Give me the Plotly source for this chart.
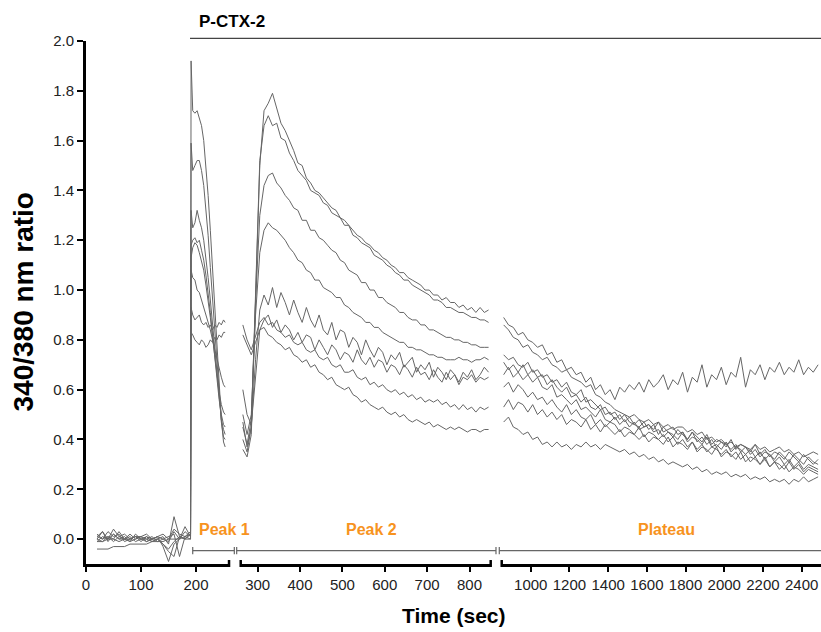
import plotly.graph_objects as go

# sampling times (s) for the three pieces of the broken time axis
t_seg1 = [20, 30, 40, 50, 60, 70, 80, 90, 100, 110, 120, 130, 140, 150, 160, 170, 180, 190,
          191, 194, 198, 202, 206, 210, 214, 218, 222, 226, 230, 234, 238, 242, 246, 250, 253]
t_seg2 = list(range(265, 850, 10))
t_seg3 = list(range(860, 2500, 25))

# 340/380 ratio for each cell, one list per axis piece
cell_a1 = [0.00, 0.03, -0.01, 0.02, 0.00, 0.01, -0.01, 0.02, 0.00, 0.01, -0.01, 0.00, 0.01, -0.02, 0.09, 0.01, 0.00, 0.02,
           1.92, 1.72, 1.71, 1.72, 1.69, 1.66, 1.60, 1.50, 1.38, 1.24, 1.08, 0.92, 0.76, 0.61, 0.48, 0.39, 0.37]
cell_b1 = [0.01, 0.00, 0.03, 0.01, 0.02, -0.01, 0.00, 0.01, 0.01, -0.01, 0.00, 0.01, -0.03, -0.09, -0.02, 0.00, 0.03, 0.01,
           1.59, 1.48, 1.50, 1.52, 1.52, 1.48, 1.42, 1.33, 1.22, 1.09, 0.96, 0.82, 0.69, 0.57, 0.47, 0.41, 0.40]
cell_c1 = [-0.01, 0.01, 0.00, 0.02, 0.00, 0.00, 0.01, -0.01, 0.00, 0.00, -0.01, 0.00, -0.02, -0.05, -0.07, 0.01, 0.00, 0.02,
           1.32, 1.25, 1.27, 1.32, 1.28, 1.25, 1.20, 1.13, 1.05, 0.96, 0.86, 0.76, 0.66, 0.56, 0.48, 0.44, 0.42]
cell_d1 = [0.00, -0.01, 0.01, 0.00, 0.03, 0.00, -0.01, 0.00, 0.01, 0.00, 0.01, -0.01, 0.00, 0.01, 0.02, -0.07, 0.01, 0.03,
           1.18, 1.20, 1.21, 1.19, 1.20, 1.16, 1.12, 1.06, 0.99, 0.91, 0.82, 0.73, 0.64, 0.56, 0.50, 0.46, 0.45]
cell_e1 = [0.02, 0.00, 0.01, -0.01, 0.01, 0.02, 0.00, 0.01, -0.01, 0.01, 0.00, 0.01, 0.00, -0.01, 0.03, 0.00, 0.05, 0.01,
           1.13, 1.17, 1.19, 1.18, 1.15, 1.12, 1.08, 1.02, 0.96, 0.89, 0.81, 0.73, 0.66, 0.59, 0.54, 0.51, 0.50]
cell_f1 = [-0.01, -0.01, 0.00, 0.00, -0.01, 0.00, 0.00, 0.01, 0.00, -0.01, 0.00, 0.00, -0.02, -0.04, -0.01, 0.01, 0.00, 0.00,
           1.08, 1.05, 1.04, 1.00, 0.99, 0.96, 0.94, 0.90, 0.87, 0.84, 0.80, 0.76, 0.72, 0.68, 0.65, 0.62, 0.61]
cell_g1 = [-0.04, -0.04, -0.04, -0.03, -0.03, -0.03, -0.02, -0.02, -0.02, -0.02, -0.01, -0.01, -0.01, 0.00, 0.00, 0.00, 0.01, 0.00,
           0.93, 0.90, 0.88, 0.89, 0.90, 0.87, 0.86, 0.87, 0.85, 0.86, 0.84, 0.86, 0.85, 0.87, 0.86, 0.88, 0.87]
cell_h1 = [0.01, 0.03, 0.00, 0.04, 0.01, 0.00, 0.02, 0.00, 0.01, 0.02, 0.00, 0.01, 0.02, 0.00, 0.04, 0.02, 0.01, 0.02,
           0.83, 0.82, 0.80, 0.79, 0.78, 0.80, 0.79, 0.77, 0.78, 0.80, 0.79, 0.81, 0.80, 0.82, 0.81, 0.83, 0.83]

cell_a2 = [0.36, 0.33, 0.42, 0.95, 1.50, 1.72, 1.75, 1.79, 1.73, 1.67, 1.64, 1.60, 1.56, 1.51, 1.50, 1.45, 1.43, 1.40, 1.39, 1.37,
           1.35, 1.33, 1.32, 1.29, 1.28, 1.26, 1.24, 1.22, 1.21, 1.19, 1.18, 1.16, 1.15, 1.13, 1.12, 1.10, 1.09, 1.07, 1.07, 1.05,
           1.04, 1.03, 1.02, 1.00, 1.00, 0.98, 0.98, 0.96, 0.97, 0.95, 0.95, 0.93, 0.94, 0.92, 0.93, 0.91, 0.93, 0.91, 0.92]
cell_b2 = [0.40, 0.35, 0.45, 1.00, 1.52, 1.66, 1.70, 1.66, 1.67, 1.61, 1.60, 1.55, 1.52, 1.48, 1.46, 1.44, 1.40, 1.39, 1.38, 1.35,
           1.34, 1.31, 1.30, 1.29, 1.26, 1.26, 1.22, 1.21, 1.19, 1.18, 1.17, 1.14, 1.13, 1.12, 1.10, 1.09, 1.07, 1.06, 1.04, 1.04,
           1.02, 1.01, 1.00, 0.99, 0.98, 0.96, 0.96, 0.95, 0.93, 0.93, 0.92, 0.91, 0.91, 0.90, 0.89, 0.89, 0.88, 0.88, 0.87]
cell_c2 = [0.45, 0.38, 0.48, 0.95, 1.30, 1.42, 1.46, 1.47, 1.43, 1.41, 1.38, 1.36, 1.33, 1.32, 1.28, 1.28, 1.24, 1.24, 1.21, 1.20,
           1.18, 1.16, 1.15, 1.12, 1.11, 1.08, 1.07, 1.06, 1.03, 1.03, 1.00, 1.00, 0.97, 0.97, 0.95, 0.94, 0.93, 0.91, 0.91, 0.89,
           0.88, 0.88, 0.86, 0.86, 0.84, 0.84, 0.83, 0.82, 0.81, 0.81, 0.80, 0.80, 0.79, 0.79, 0.78, 0.78, 0.77, 0.77, 0.77]
cell_d2 = [0.50, 0.42, 0.50, 0.90, 1.15, 1.24, 1.27, 1.25, 1.24, 1.22, 1.20, 1.17, 1.15, 1.12, 1.11, 1.08, 1.07, 1.04, 1.04, 1.01,
           1.00, 0.99, 0.97, 0.97, 0.94, 0.93, 0.91, 0.90, 0.89, 0.87, 0.87, 0.85, 0.85, 0.83, 0.82, 0.81, 0.80, 0.79, 0.79, 0.77,
           0.77, 0.76, 0.76, 0.75, 0.74, 0.74, 0.73, 0.73, 0.72, 0.72, 0.72, 0.73, 0.72, 0.72, 0.71, 0.72, 0.72, 0.73, 0.72]
cell_e2 = [0.47, 0.37, 0.45, 0.72, 0.92, 0.98, 0.94, 1.01, 0.93, 0.99, 0.95, 0.90, 0.96, 0.91, 0.87, 0.93, 0.88, 0.85, 0.90, 0.84,
           0.82, 0.87, 0.80, 0.84, 0.83, 0.77, 0.81, 0.79, 0.74, 0.80, 0.76, 0.73, 0.77, 0.75, 0.70, 0.74, 0.72, 0.75, 0.69, 0.71,
           0.73, 0.67, 0.70, 0.68, 0.71, 0.65, 0.69, 0.67, 0.64, 0.68, 0.66, 0.63, 0.67, 0.65, 0.68, 0.64, 0.66, 0.69, 0.67]
cell_f2 = [0.60, 0.50, 0.46, 0.66, 0.84, 0.88, 0.90, 0.85, 0.88, 0.83, 0.86, 0.84, 0.80, 0.83, 0.79, 0.82, 0.81, 0.76, 0.80, 0.77,
           0.74, 0.78, 0.76, 0.72, 0.75, 0.74, 0.71, 0.76, 0.72, 0.70, 0.73, 0.69, 0.72, 0.71, 0.67, 0.70, 0.69, 0.66, 0.70, 0.68,
           0.65, 0.69, 0.66, 0.67, 0.64, 0.68, 0.65, 0.63, 0.67, 0.64, 0.66, 0.62, 0.65, 0.64, 0.66, 0.63, 0.65, 0.64, 0.65]
cell_g2 = [0.86, 0.80, 0.76, 0.82, 0.87, 0.89, 0.86, 0.87, 0.84, 0.83, 0.81, 0.82, 0.79, 0.78, 0.79, 0.76, 0.75, 0.76, 0.73, 0.72,
           0.73, 0.70, 0.69, 0.70, 0.67, 0.67, 0.68, 0.65, 0.64, 0.65, 0.62, 0.63, 0.61, 0.62, 0.60, 0.59, 0.60, 0.58, 0.59, 0.57,
           0.58, 0.56, 0.57, 0.55, 0.56, 0.55, 0.56, 0.54, 0.55, 0.53, 0.54, 0.52, 0.54, 0.52, 0.53, 0.51, 0.53, 0.52, 0.53]
cell_h2 = [0.82, 0.78, 0.74, 0.79, 0.84, 0.85, 0.82, 0.81, 0.79, 0.78, 0.76, 0.77, 0.74, 0.73, 0.71, 0.72, 0.69, 0.70, 0.67, 0.66,
           0.64, 0.65, 0.62, 0.61, 0.60, 0.61, 0.58, 0.57, 0.55, 0.56, 0.54, 0.53, 0.52, 0.53, 0.51, 0.50, 0.51, 0.49, 0.50, 0.48,
           0.47, 0.48, 0.47, 0.46, 0.47, 0.45, 0.46, 0.45, 0.44, 0.45, 0.44, 0.45, 0.44, 0.43, 0.44, 0.44, 0.43, 0.44, 0.44]

cell_a3 = [0.89, 0.86, 0.85, 0.82, 0.83, 0.80, 0.79, 0.77, 0.78, 0.74, 0.75, 0.71, 0.72, 0.68, 0.69, 0.66, 0.67, 0.63, 0.65, 0.60,
           0.62, 0.58, 0.60, 0.56, 0.61, 0.59, 0.62, 0.60, 0.63, 0.59, 0.64, 0.61, 0.63, 0.66, 0.60, 0.64, 0.62, 0.67, 0.59, 0.65,
           0.63, 0.70, 0.61, 0.66, 0.64, 0.69, 0.62, 0.67, 0.65, 0.73, 0.61, 0.68, 0.66, 0.70, 0.64, 0.69, 0.67, 0.71, 0.66, 0.69,
           0.67, 0.72, 0.66, 0.69, 0.67, 0.70]
cell_b3 = [0.86, 0.84, 0.81, 0.80, 0.77, 0.78, 0.75, 0.74, 0.72, 0.73, 0.70, 0.69, 0.67, 0.68, 0.65, 0.64, 0.63, 0.61, 0.62, 0.58,
           0.57, 0.55, 0.54, 0.52, 0.51, 0.50, 0.49, 0.50, 0.48, 0.47, 0.48, 0.46, 0.47, 0.45, 0.46, 0.44, 0.45, 0.45, 0.43, 0.44,
           0.42, 0.43, 0.40, 0.41, 0.39, 0.40, 0.38, 0.39, 0.37, 0.38, 0.37, 0.36, 0.38, 0.36, 0.37, 0.35, 0.36, 0.37, 0.35, 0.36,
           0.34, 0.35, 0.33, 0.34, 0.35, 0.34]
cell_c3 = [0.74, 0.72, 0.73, 0.70, 0.69, 0.71, 0.67, 0.68, 0.65, 0.66, 0.63, 0.64, 0.61, 0.63, 0.59, 0.58, 0.60, 0.55, 0.56, 0.54,
           0.52, 0.53, 0.50, 0.51, 0.48, 0.50, 0.47, 0.46, 0.48, 0.45, 0.46, 0.44, 0.47, 0.43, 0.44, 0.45, 0.42, 0.43, 0.40, 0.43,
           0.41, 0.39, 0.42, 0.38, 0.40, 0.39, 0.37, 0.40, 0.36, 0.38, 0.37, 0.35, 0.38, 0.34, 0.36, 0.33, 0.35, 0.34, 0.32, 0.35,
           0.33, 0.31, 0.34, 0.32, 0.30, 0.32]
cell_d3 = [0.71, 0.68, 0.70, 0.67, 0.64, 0.66, 0.63, 0.65, 0.61, 0.60, 0.62, 0.57, 0.58, 0.56, 0.54, 0.56, 0.52, 0.53, 0.51, 0.49,
           0.52, 0.48, 0.47, 0.49, 0.46, 0.48, 0.45, 0.47, 0.44, 0.45, 0.46, 0.43, 0.44, 0.41, 0.43, 0.42, 0.40, 0.43, 0.39, 0.41,
           0.40, 0.38, 0.41, 0.37, 0.38, 0.36, 0.39, 0.35, 0.37, 0.36, 0.34, 0.36, 0.33, 0.35, 0.32, 0.34, 0.31, 0.33, 0.30, 0.32,
           0.29, 0.31, 0.28, 0.30, 0.29, 0.28]
cell_e3 = [0.66, 0.69, 0.65, 0.67, 0.70, 0.66, 0.68, 0.65, 0.66, 0.62, 0.64, 0.61, 0.59, 0.61, 0.57, 0.58, 0.55, 0.57, 0.53, 0.52,
           0.54, 0.50, 0.51, 0.48, 0.50, 0.47, 0.49, 0.46, 0.45, 0.47, 0.44, 0.46, 0.42, 0.45, 0.43, 0.41, 0.44, 0.42, 0.40, 0.43,
           0.39, 0.41, 0.38, 0.40, 0.37, 0.39, 0.38, 0.36, 0.38, 0.35, 0.37, 0.34, 0.36, 0.33, 0.35, 0.34, 0.32, 0.35, 0.33, 0.31,
           0.34, 0.32, 0.30, 0.33, 0.31, 0.30]
cell_f3 = [0.61, 0.63, 0.59, 0.62, 0.60, 0.57, 0.59, 0.56, 0.57, 0.54, 0.56, 0.53, 0.51, 0.54, 0.50, 0.52, 0.49, 0.48, 0.50, 0.46,
           0.48, 0.45, 0.47, 0.46, 0.43, 0.45, 0.44, 0.42, 0.45, 0.41, 0.43, 0.42, 0.40, 0.42, 0.39, 0.41, 0.38, 0.40, 0.37, 0.39,
           0.36, 0.38, 0.35, 0.37, 0.36, 0.34, 0.36, 0.33, 0.35, 0.32, 0.34, 0.31, 0.33, 0.30, 0.32, 0.29, 0.31, 0.28, 0.30, 0.27,
           0.29, 0.28, 0.26, 0.28, 0.27, 0.26]
cell_g3 = [0.53, 0.56, 0.52, 0.55, 0.54, 0.51, 0.54, 0.50, 0.52, 0.49, 0.51, 0.48, 0.50, 0.46, 0.48, 0.47, 0.45, 0.48, 0.44, 0.46,
           0.43, 0.46, 0.44, 0.42, 0.44, 0.41, 0.43, 0.42, 0.40, 0.42, 0.39, 0.41, 0.40, 0.38, 0.41, 0.37, 0.39, 0.38, 0.36, 0.39,
           0.35, 0.37, 0.36, 0.34, 0.37, 0.33, 0.35, 0.34, 0.32, 0.35, 0.31, 0.33, 0.32, 0.30, 0.33, 0.29, 0.31, 0.30, 0.28, 0.31,
           0.28, 0.30, 0.27, 0.29, 0.28, 0.27]
cell_h3 = [0.47, 0.49, 0.45, 0.44, 0.42, 0.43, 0.40, 0.41, 0.38, 0.39, 0.37, 0.39, 0.37, 0.38, 0.36, 0.38, 0.37, 0.39, 0.37, 0.38,
           0.36, 0.38, 0.37, 0.36, 0.35, 0.36, 0.34, 0.35, 0.33, 0.34, 0.32, 0.33, 0.31, 0.32, 0.30, 0.31, 0.30, 0.29, 0.30, 0.28,
           0.29, 0.27, 0.28, 0.26, 0.27, 0.26, 0.27, 0.25, 0.26, 0.25, 0.26, 0.24, 0.25, 0.24, 0.25, 0.23, 0.24, 0.23, 0.24, 0.22,
           0.24, 0.23, 0.25, 0.23, 0.24, 0.25]

cells = [
    (cell_a1, cell_a2, cell_a3), (cell_b1, cell_b2, cell_b3),
    (cell_c1, cell_c2, cell_c3), (cell_d1, cell_d2, cell_d3),
    (cell_e1, cell_e2, cell_e3), (cell_f1, cell_f2, cell_f3),
    (cell_g1, cell_g2, cell_g3), (cell_h1, cell_h2, cell_h3),
]

x_ticks1 = [0, 100, 200]
x_ticks2 = [300, 400, 500, 600, 700, 800]
x_ticks3 = [1000, 1200, 1400, 1600, 1800, 2000, 2200, 2400]

LINE = '#666666'
ORANGE = '#F7931E'
FONT = 'Arial, Liberation Sans, sans-serif'

fig = go.Figure()
for seg1, seg2, seg3 in cells:
    fig.add_trace(go.Scatter(x=t_seg1, y=seg1, mode='lines', xaxis='x', yaxis='y',
                             line=dict(color=LINE, width=1)))
    fig.add_trace(go.Scatter(x=t_seg2, y=seg2, mode='lines', xaxis='x2', yaxis='y',
                             line=dict(color=LINE, width=1)))
    fig.add_trace(go.Scatter(x=t_seg3, y=seg3, mode='lines', xaxis='x3', yaxis='y',
                             line=dict(color=LINE, width=1)))

axis_style = dict(showline=True, linecolor='black', linewidth=3, ticks='outside', ticklen=5,
                  tickwidth=2, tickcolor='black', showgrid=False, zeroline=False,
                  tickfont=dict(size=15, color='#222'), anchor='y')

fig.update_layout(
    width=821, height=632,
    margin=dict(l=86, r=0, t=41, b=68),
    paper_bgcolor='white', plot_bgcolor='white',
    showlegend=False,
    font=dict(family=FONT, size=15, color='#222'),
    xaxis=dict(domain=[0, 0.1946], range=[0, 260], tickvals=x_ticks1, **axis_style),
    xaxis2=dict(domain=[0.2105, 0.5506], range=[260, 850], tickvals=x_ticks2, **axis_style),
    xaxis3=dict(domain=[0.5656, 1.0], range=[850, 2500], tickvals=x_ticks3, **axis_style),
    yaxis=dict(range=[-0.1, 2.0], tick0=0, dtick=0.2, tickformat='.1f', anchor='x',
               showline=True, linecolor='black', linewidth=3, ticks='outside', ticklen=6,
               tickwidth=2, tickcolor='black', showgrid=False, zeroline=False,
               tickfont=dict(size=15, color='#222')),
)

shapes = []
# end caps of the broken x axis
for xp in [0.1946, 0.2105, 0.5506, 0.5656]:
    shapes.append(dict(type='line', xref='paper', yref='paper', x0=xp, x1=xp, y0=0.0076, y1=-0.0057,
                       line=dict(color='black', width=2.5)))
# toxin application bar
shapes.append(dict(type='line', xref='paper', yref='paper', x0=0.1415, x1=1.0, y0=1.0052, y1=1.0052,
                   line=dict(color='#444', width=1.2)))
# phase brackets
for a, b in [(0.1452, 0.2018), (0.2050, 0.5578), (0.5623, 1.0)]:
    shapes.append(dict(type='line', xref='paper', yref='paper', x0=a, x1=b, y0=0.0254, y1=0.0254,
                       line=dict(color='#666', width=1.2)))
for xp in [0.1452, 0.2018, 0.2050, 0.5578, 0.5623]:
    shapes.append(dict(type='line', xref='paper', yref='paper', x0=xp, x1=xp, y0=0.0325, y1=0.0185,
                       line=dict(color='#666', width=1.2)))
fig.update_layout(shapes=shapes)

fig.add_annotation(text='<b>P-CTX-2</b>', xref='paper', yref='paper', x=0.1506, y=1.0369,
                   xanchor='left', yanchor='middle', showarrow=False,
                   font=dict(size=17, color='black', family=FONT))
for label, xp, anchor in [('Peak 1', 0.1506, 'left'), ('Peak 2', 0.3891, 'center'), ('Plateau', 0.7898, 'center')]:
    fig.add_annotation(text='<b>' + label + '</b>', xref='paper', yref='paper', x=xp, y=0.0669,
                       xanchor=anchor, yanchor='middle', showarrow=False,
                       font=dict(size=16, color=ORANGE, family=FONT))
fig.add_annotation(text='<b>Time (sec)</b>', xref='paper', yref='paper', x=0.5007, y=-0.0994,
                   xanchor='center', yanchor='middle', showarrow=False,
                   font=dict(size=21, color='black', family=FONT))
fig.add_annotation(text='<b>340/380 nm ratio</b>', xref='paper', yref='paper', x=-0.0857, y=0.5,
                   xanchor='center', yanchor='middle', textangle=-90, showarrow=False,
                   font=dict(size=28, color='black', family=FONT))

# drop the default page margin so the figure fills the window exactly
fig.write_html("out.html", config={'displayModeBar': False},
               post_script="document.body.style.margin='0';document.body.style.overflow='hidden';")
